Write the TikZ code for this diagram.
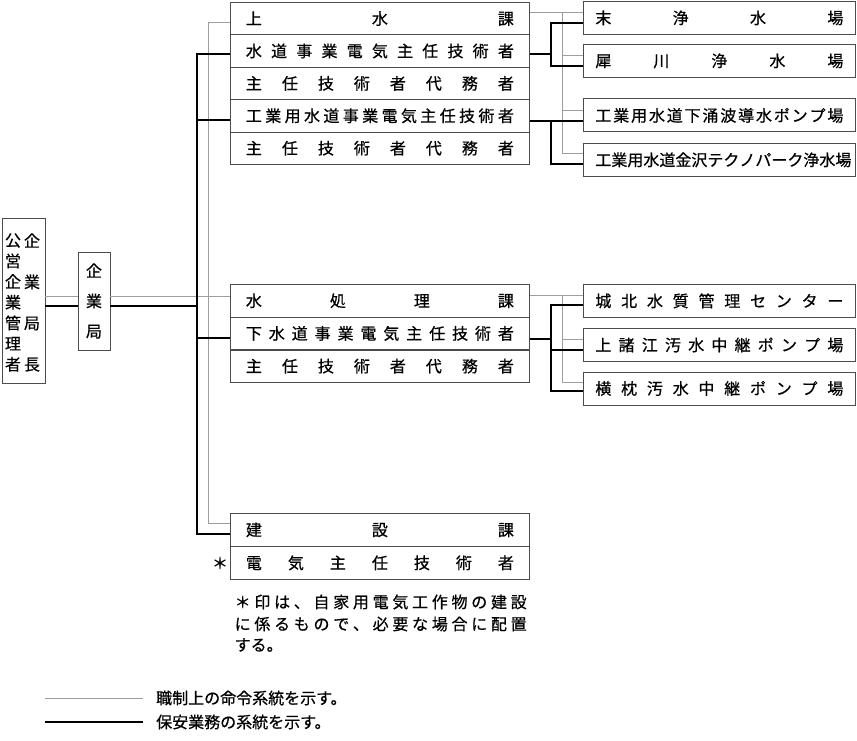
\documentclass[tikz,border=0pt]{standalone}
\usepackage{fontspec}
\setmainfont{Noto Sans CJK JP}[FakeBold=0.6]
\def\spreadbox#1#2{\hbox to #1{\spreadA#2\relax}}
\def\spreadA#1{#1\spreadB}
\def\spreadB#1{\ifx\relax#1\else\hfill#1\expandafter\spreadB\fi}
\def\vspreadbox#1#2{\vbox to #1{\vspA#2\relax}}
\def\vspA#1{\hbox to 1em{\hss#1\hss}\vspB}
\def\vspB#1{\ifx\relax#1\else\vfill\hbox to 1em{\hss#1\hss}\expandafter\vspB\fi}
\definecolor{boxc}{gray}{0.3}
\definecolor{cmdc}{gray}{0.62}
\begin{document}
\begin{tikzpicture}[x=1pt,y=-1pt,font=\fontsize{16}{19}\selectfont,
  rowbox/.style={draw=boxc, line width=0.8pt, minimum width=299pt, minimum height=32.4pt, inner sep=0pt, anchor=north west},
  rowboxb/.style={rowbox, minimum height=32.7pt},
  rowboxc/.style={rowbox, minimum height=33pt},
  sidebox/.style={draw=boxc, line width=0.8pt, minimum width=272pt, minimum height=33pt, inner sep=0pt, anchor=north west},
  tallbox/.style={draw=boxc, line width=0.8pt, inner sep=0pt},
  cmd/.style={draw=cmdc, line width=0.7pt},
  pwr/.style={draw=black, line width=1.8pt, line join=miter},
  plain/.style={inner sep=0pt}]
\useasboundingbox (0,0) rectangle (857,741);

% bus coordinates
\coordinate (tb) at (197,0);
\coordinate (gb) at (208,0);
\coordinate (tr) at (551,0);
\coordinate (gr) at (562,0);

% left boxes
\node[tallbox, minimum width=43pt, minimum height=165pt] (kanri) at (23.5,300.5) {};
\node[plain] (kanriL) at (13,302.5) {\vspreadbox{137pt}{公営企業管理者}};
\node[plain] (kanriR) at (32,302.5) {\vspreadbox{137pt}{企業局長}};
\node[tallbox, minimum width=32pt, minimum height=98pt] (kigyo) at (94,301) {\vspreadbox{74pt}{企業局}};

% group 1
\node[rowbox] (ws1) at (230,2) {\spreadbox{268pt}{上水課}};
\node[rowbox] (ws2) at (230,34.4) {\spreadbox{268pt}{水道事業電気主任技術者}};
\node[rowbox] (ws3) at (230,66.8) {\spreadbox{268pt}{主任技術者代務者}};
\node[rowbox] (ws4) at (230,99.2) {\spreadbox{268pt}{工業用水道事業電気主任技術者}};
\node[rowbox] (ws5) at (230,131.6) {\spreadbox{268pt}{主任技術者代務者}};

% group 2
\node[rowboxb] (wt1) at (230,284) {\spreadbox{268pt}{水処理課}};
\node[rowboxb] (wt2) at (230,316.7) {\spreadbox{268pt}{下水道事業電気主任技術者}};
\node[rowboxb] (wt3) at (230,349.4) {\spreadbox{268pt}{主任技術者代務者}};
\draw[draw=boxc, line width=1.6pt] (wt2.south west) -- (wt2.south east);

% group 3
\node[rowboxc] (kn1) at (230,513) {\spreadbox{268pt}{建設課}};
\node[rowboxc] (kn2) at (230,546) {\spreadbox{268pt}{電気主任技術者}};
\node[plain] (ast) at (220,563) {＊};

% right boxes
\node[sidebox] (r1) at (583,1) {\spreadbox{248pt}{末浄水場}};
\node[sidebox] (r2) at (583,44) {\spreadbox{248pt}{犀川浄水場}};
\node[sidebox] (r3) at (583,98.5) {\spreadbox{248pt}{工業用水道下涌波導水ポンプ場}};
\node[sidebox] (r4) at (583,143) {\spreadbox{248pt}{工業用水道金沢テクノパーク浄水場}};
\node[sidebox] (r5) at (583,284) {\spreadbox{248pt}{城北水質管理センター}};
\node[sidebox] (r6) at (583,328) {\spreadbox{248pt}{上諸江汚水中継ポンプ場}};
\node[sidebox] (r7) at (583,371.5) {\spreadbox{248pt}{横枕汚水中継ポンプ場}};

% command (gray) lines
\draw[cmd] (kanri.east|-0,296) -- (kigyo.west|-0,296);
\draw[cmd] (kigyo.east|-0,296) -- (wt1.west|-0,296);
\draw[cmd] (ws1.west|-0,22) -- (gb|-0,22) -- (gb|-0,523) -- (kn1.west|-0,523);
\draw[cmd] (ws1.east|-0,12) -- (r1.west|-0,12);
\draw[cmd] (gr|-0,12) -- (gr|-0,153) -- (r4.west|-0,153);
\draw[cmd] (gr|-0,55) -- (r2.west|-0,55);
\draw[cmd] (gr|-0,110) -- (r3.west|-0,110);
\draw[cmd] (wt1.east|-0,295) -- (r5.west|-0,295);
\draw[cmd] (gr|-0,295) -- (gr|-0,382) -- (r7.west|-0,382);
\draw[cmd] (gr|-0,339) -- (r6.west|-0,339);

% safety (thick) lines
\draw[pwr] (kanri.east|-0,306) -- (kigyo.west|-0,306);
\draw[pwr] (kigyo.east|-0,306) -- (tb|-0,306);
\draw[pwr] (ws2.west|-0,54) -- (tb|-0,54) -- (tb|-0,534) -- (kn1.west|-0,534);
\draw[pwr] (tb|-0,120) -- (ws4.west|-0,120);
\draw[pwr] (tb|-0,338) -- (wt2.west|-0,338);
\draw[pwr] (ws2.east|-0,54) -- (tr|-0,54);
\draw[pwr] (r1.west|-0,23) -- (tr|-0,23) -- (tr|-0,66) -- (r2.west|-0,66);
\draw[pwr] (ws4.east|-0,121) -- (r3.west|-0,121);
\draw[pwr] (tr|-0,121) -- (tr|-0,164) -- (r4.west|-0,164);
\draw[pwr] (wt2.east|-0,339) -- (tr|-0,339);
\draw[pwr] (r5.west|-0,305) -- (tr|-0,305) -- (tr|-0,391) -- (r7.west|-0,391);
\draw[pwr] (tr|-0,350) -- (r6.west|-0,350);

% note
\node[plain, anchor=west] (note1) at (234.5,602) {\spreadbox{292pt}{＊印は、自家用電気工作物の建設}};
\node[plain, anchor=west] (note2) at (234.5,624) {\spreadbox{292pt}{に係るもので、必要な場合に配置}};
\node[plain, anchor=west] (note3) at (234.5,645) {する。};

% legend
\coordinate (lg1a) at (45,698);
\coordinate (lg1b) at (143,698);
\coordinate (lg2a) at (45,722);
\coordinate (lg2b) at (143,722);
\draw[cmd] (lg1a) -- (lg1b);
\draw[pwr] (lg2a) -- (lg2b);
\node[plain, anchor=west] (leg1) at (156,698) {職制上の命令系統を示す。};
\node[plain, anchor=west] (leg2) at (156,722) {保安業務の系統を示す。};
\end{tikzpicture}
\end{document}
